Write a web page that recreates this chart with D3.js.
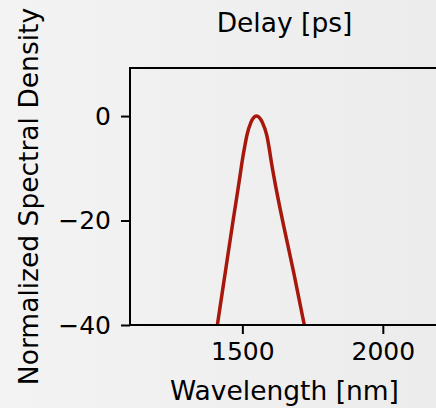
<!DOCTYPE html>
<html lang="en">
<head>
  <meta charset="utf-8" />
  <title>Normalized Spectral Density</title>
  <script src="https://d3js.org/d3.v7.min.js"></script>
  <style>
    body{margin:0;background:#efefef;overflow:hidden;}
    svg{display:block;font-family:"DejaVu Sans",sans-serif;}
    .axis path,.axis line{stroke:#000;stroke-width:2px;}
    .axis text{font-size:25px;fill:#000;}
    .lbl{font-size:26.5px;fill:#000;}
  </style>
</head>
<body>
<svg id="chart" width="436" height="408"></svg>
<script>
// -------------- DATA --------------
// wavelength [nm] and spectral density [dB]
const wavelength=[1411,1439,1467,1489,1500,1508.5,1516.5,1530.5,1540.3,1550,1560.6,1571,1586.6,1595,1602,1615,1645,1683,1720.5];
const density   =[-40,-30,-20,-12.4,-8.4,-5.8,-3.6,-1.2,-0.3,0,-0.3,-1.2,-3.6,-6.0,-8.4,-12.4,-20.5,-30,-40];
const xTicks=[1500,2000];
const yTicks=[0,-20,-40];
const xDomain=[1100,2200];
const yDomain=[-40,9.2];

// -------------- LAYOUT --------------
const W=436,H=408;
const plot={left:130,right:439,top:68,bottom:325};

const svg=d3.select('#chart');

// soft grey backdrop
const defs=svg.append('defs');
const grad=defs.append('linearGradient').attr('id','bg').attr('x1','0').attr('x2','1');
grad.append('stop').attr('offset','0').attr('stop-color','#f3f3f3');
grad.append('stop').attr('offset','1').attr('stop-color','#ececec');
svg.append('rect').attr('width',W).attr('height',H).attr('fill','url(#bg)');

defs.append('clipPath').attr('id','clip').append('rect')
  .attr('x',plot.left).attr('y',plot.top)
  .attr('width',plot.right-plot.left).attr('height',plot.bottom-plot.top);

const x=d3.scaleLinear().domain(xDomain).range([plot.left,plot.right]);
const y=d3.scaleLinear().domain(yDomain).range([plot.bottom,plot.top]);

// -------------- CURVE --------------
const pts=wavelength.map((w,i)=>({w,v:density[i]}));
const line=d3.line().x(d=>x(d.w)).y(d=>y(d.v)).curve(d3.curveMonotoneX);
svg.append('path').datum(pts)
  .attr('clip-path','url(#clip)')
  .attr('fill','none').attr('stroke','#a8170c').attr('stroke-width',3.5)
  .attr('stroke-linejoin','round').attr('d',line);

// -------------- AXES --------------
const fmt=d=>d<0?'\u2212'+Math.abs(d):String(d);
const gx=svg.append('g').attr('class','axis').attr('transform',`translate(0,${plot.bottom})`)
  .call(d3.axisBottom(x).tickValues(xTicks).tickFormat(d3.format('d')).tickSizeOuter(0).tickSize(9).tickPadding(8));
const gy=svg.append('g').attr('class','axis').attr('transform',`translate(${plot.left},0)`)
  .call(d3.axisLeft(y).tickValues(yTicks).tickFormat(fmt).tickSizeOuter(0).tickSize(9).tickPadding(10));
gx.select('.domain').remove();
gy.select('.domain').remove();
gx.selectAll('text').attr('font-family','DejaVu Sans');
gy.selectAll('text').attr('font-family','DejaVu Sans');

// spines: left, bottom, top
svg.append('path')
  .attr('d',`M${plot.right},${plot.top}H${plot.left}V${plot.bottom}H${plot.right}`)
  .attr('fill','none').attr('stroke','#000').attr('stroke-width',2);

// -------------- LABELS --------------
const cx=(plot.left+plot.right)/2;
svg.append('text').attr('class','lbl').attr('x',cx).attr('y',400)
  .attr('text-anchor','middle').text('Wavelength [nm]');
svg.append('text').attr('class','lbl').attr('x',cx).attr('y',32)
  .attr('text-anchor','middle').text('Delay [ps]');
svg.append('text').attr('class','lbl')
  .attr('transform',`translate(38,${(plot.top+plot.bottom)/2}) rotate(-90)`)
  .attr('text-anchor','middle').text('Normalized Spectral Density');
</script>
</body>
</html>
